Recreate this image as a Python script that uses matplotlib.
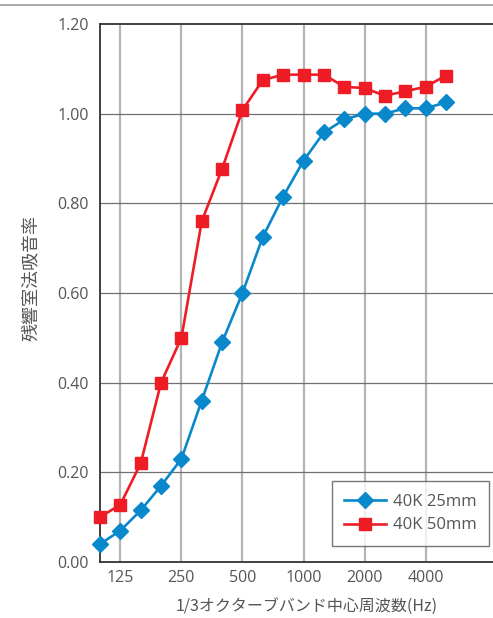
import matplotlib
matplotlib.use("Agg")
import matplotlib.pyplot as plt
from matplotlib.lines import Line2D

plt.rcParams['font.family'] = ['Open Sans', 'Noto Sans CJK JP', 'DejaVu Sans']

# 1/3オクターブバンド中心周波数
freqs = [100, 125, 160, 200, 250, 315, 400, 500, 630, 800,
         1000, 1250, 1600, 2000, 2500, 3150, 4000, 5000]
tick_labels = ['125', '250', '500', '1000', '2000', '4000']
tick_idx = [1, 4, 7, 10, 13, 16]

# 残響室法吸音率
k40_25mm = [0.04, 0.07, 0.115, 0.17, 0.23, 0.36, 0.49, 0.60, 0.725, 0.815,
            0.895, 0.958, 0.987, 1.00, 1.00, 1.012, 1.012, 1.025]
k40_50mm = [0.10, 0.128, 0.22, 0.40, 0.50, 0.76, 0.877, 1.008, 1.075, 1.087,
            1.087, 1.087, 1.06, 1.057, 1.04, 1.05, 1.06, 1.085]

blue = '#0a88cc'
red = '#ee1c25'
txt = '#555555'

fig = plt.figure(figsize=(4.93, 6.18), dpi=100)
ax = fig.add_axes([100 / 493, 1 - 562 / 618, 393 / 493, 538 / 618])

x = list(range(len(freqs)))
ax.plot(x, k40_25mm, color=blue, lw=1.9, marker='D', ms=8.5,
        label='40K 25mm', clip_on=False, zorder=4)
ax.plot(x, k40_50mm, color=red, lw=1.9, marker='s', ms=8,
        label='40K 50mm', clip_on=False, zorder=5)

ax.set_xlim(0, 393 / 20.35)
ax.set_ylim(0, 1.2)
ax.set_xticks(tick_idx)
ax.set_xticklabels(tick_labels)
ax.set_yticks([0, 0.2, 0.4, 0.6, 0.8, 1.0, 1.2])
ax.set_yticklabels(['%.2f' % v for v in [0, 0.2, 0.4, 0.6, 0.8, 1.0, 1.2]])
ax.tick_params(length=0, labelsize=11.5, labelcolor=txt)
ax.tick_params(axis='x', pad=6)
ax.tick_params(axis='y', pad=8)

# グリッド
for i in tick_idx:
    ax.axvline(i, color='#b4b4b4', lw=1.6, zorder=1)
for v in [0.2, 0.4, 0.6, 0.8, 1.0]:
    ax.axhline(v, color='#707070', lw=0.9, zorder=2)

for s in ['left', 'bottom', 'top']:
    ax.spines[s].set_color('#333333')
    ax.spines[s].set_linewidth(1.3)
ax.spines['right'].set_visible(False)

ax.set_xlabel('1/3オクターブバンド中心周波数(Hz)', fontsize=11.5, color=txt,
              family=['Noto Sans CJK JP'])
ax.xaxis.set_label_coords(0.527, -0.066)
ax.set_ylabel('残響室法吸音率', fontsize=13, color=txt,
              family=['Noto Sans CJK JP'])
ax.yaxis.set_label_coords(-0.152, 0.528)

leg = ax.legend(loc='lower left', bbox_to_anchor=(0.59, 0.03), fontsize=12,
                frameon=True, fancybox=False, borderpad=0.75, handlelength=2.5,
                labelspacing=0.45, handletextpad=0.4, borderaxespad=0)
leg.get_frame().set_edgecolor('#555555')
leg.get_frame().set_linewidth(1.0)
for t in leg.get_texts():
    t.set_color(txt)

# 上部の区切り線
fig.add_artist(Line2D([0, 1], [1 - 5 / 618, 1 - 5 / 618], color='#9a9a9a', lw=1.2))

fig.savefig('out.png', dpi=100)
